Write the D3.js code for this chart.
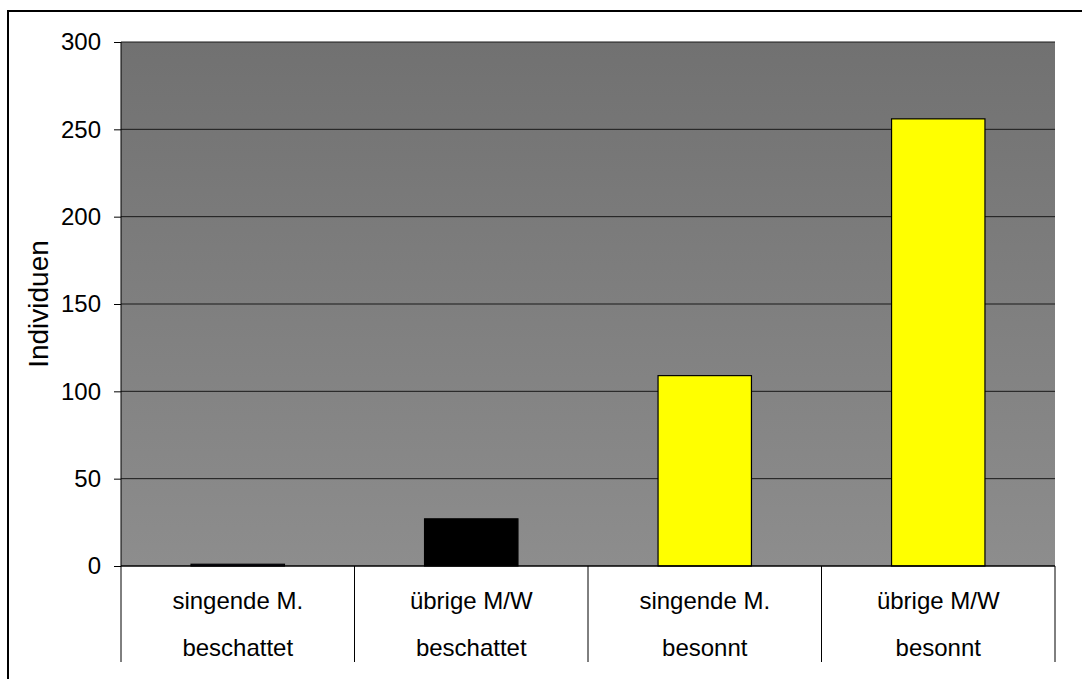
<!DOCTYPE html>
<html>
<head>
<meta charset="utf-8">
<title>Individuen</title>
<script src="https://cdnjs.cloudflare.com/ajax/libs/d3/7.8.5/d3.min.js"></script>
<style>
body { margin: 0; background: #fff; }
svg text { font-family: "Liberation Sans", Arial, sans-serif; fill: #000; }
</style>
</head>
<body>
<div id="chart"></div>
<script>
// chart values
var groupLabels = ["singende M.", "übrige M/W", "singende M.", "übrige M/W"];
var siteLabels = ["beschattet", "beschattet", "besonnt", "besonnt"];
var counts = [1, 27, 109, 256];
var barColors = ["#211d40", "#000000", "#ffff00", "#ffff00"];
var yTicks = [0, 50, 100, 150, 200, 250, 300];

(function() {
var W = 1082, H = 679;
var pLeft = 121, pRight = 1055, pTop = 42, pBottom = 566, catBottom = 662;

var svg = d3.select("#chart").append("svg")
    .attr("width", W).attr("height", H);

// outer frame (runs off the picture at right and bottom)
svg.append("rect")
    .attr("x", 8).attr("y", 11).attr("width", W).attr("height", H)
    .style("fill", "none").style("stroke", "#000").style("stroke-width", 2);

var defs = svg.append("defs");
var grad = defs.append("linearGradient").attr("id", "bg")
    .attr("x1", 0).attr("y1", 0).attr("x2", 0).attr("y2", 1);
grad.append("stop").attr("offset", "0%").attr("stop-color", "#717171");
grad.append("stop").attr("offset", "100%").attr("stop-color", "#8d8d8d");

var x = d3.scaleBand().domain(d3.range(counts.length))
    .range([pLeft, pRight]).paddingInner(0).paddingOuter(0);
var y = d3.scaleLinear().domain([0, 300]).range([pBottom, pTop]);

svg.append("rect")
    .attr("x", pLeft).attr("y", pTop)
    .attr("width", pRight - pLeft).attr("height", pBottom - pTop)
    .style("fill", "url(#bg)");

// gridlines
svg.append("g").selectAll("line").data(yTicks.slice(1)).enter().append("line")
    .attr("x1", pLeft).attr("x2", pRight)
    .attr("y1", function(d) { return y(d); }).attr("y2", function(d) { return y(d); })
    .style("stroke", "#1a1a1a").style("stroke-width", 1);

// bars: width = band / 2.5
var bw = x.bandwidth() / 2.5;
svg.append("g").selectAll("rect").data(counts).enter().append("rect")
    .attr("x", function(d, i) { return x(i) + (x.bandwidth() - bw) / 2; })
    .attr("y", function(d) { return y(d); })
    .attr("width", bw)
    .attr("height", function(d) { return y(0) - y(d); })
    .style("fill", function(d, i) { return barColors[i]; })
    .style("stroke", "#000").style("stroke-width", 1.2);

// y axis
var yAxis = d3.axisLeft(y).tickValues(yTicks).tickSize(7).tickPadding(13);
var gy = svg.append("g").attr("transform", "translate(" + pLeft + ",0)").call(yAxis);
gy.select(".domain").attr("d", "M0," + pTop + "V" + pBottom).style("stroke", "#000");
gy.selectAll(".tick line").style("stroke", "#000");
gy.selectAll(".tick text").style("font-size", "24px")
    .style("font-family", "'Liberation Sans', Arial, sans-serif");

// x axis line
svg.append("line").attr("x1", pLeft).attr("x2", pRight)
    .attr("y1", pBottom).attr("y2", pBottom)
    .style("stroke", "#000").style("stroke-width", 1.5);

// category dividers
var edges = d3.range(counts.length + 1).map(function(i) {
    return i < counts.length ? x(i) : pRight;
});
svg.append("g").selectAll("line").data(edges).enter().append("line")
    .attr("x1", function(d) { return d; }).attr("x2", function(d) { return d; })
    .attr("y1", pBottom).attr("y2", catBottom)
    .style("stroke", "#000").style("stroke-width", 1);

// category labels
var cat = svg.append("g").selectAll("g").data(counts).enter().append("g");
cat.append("text")
    .attr("x", function(d, i) { return x(i) + x.bandwidth() / 2; })
    .attr("y", 609)
    .attr("text-anchor", "middle").style("font-size", "24px")
    .text(function(d, i) { return groupLabels[i]; });
cat.append("text")
    .attr("x", function(d, i) { return x(i) + x.bandwidth() / 2; })
    .attr("y", 656)
    .attr("text-anchor", "middle").style("font-size", "24px")
    .text(function(d, i) { return siteLabels[i]; });

// y title
svg.append("text")
    .attr("transform", "translate(48," + ((pTop + pBottom) / 2) + ") rotate(-90)")
    .attr("text-anchor", "middle").style("font-size", "28px")
    .text("Individuen");
})();
</script>
</body>
</html>
